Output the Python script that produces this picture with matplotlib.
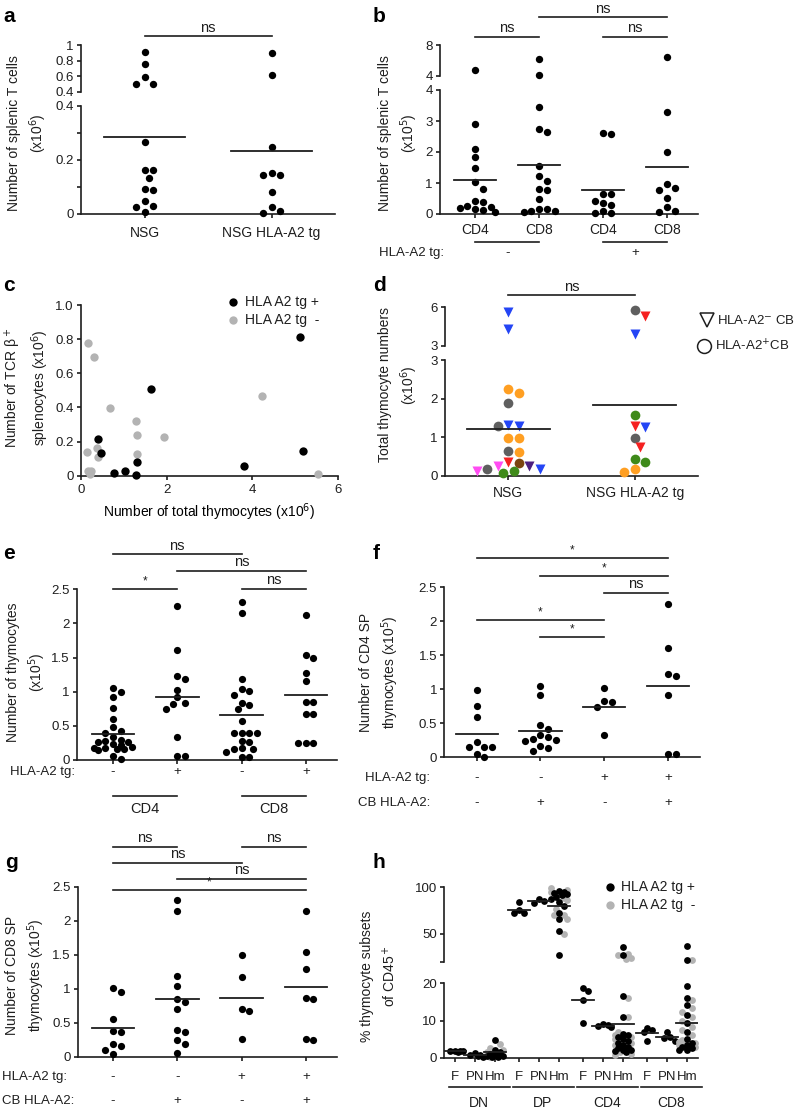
import numpy as np
import matplotlib
matplotlib.use('Agg')
import matplotlib.pyplot as plt
from matplotlib.lines import Line2D
from matplotlib import transforms

# ---- data ----
# a: splenic T cells (x10^6)
a_nsg = [0.914, 0.756, 0.593, 0.507, 0.507, 0.266, 0.164, 0.164, 0.135, 0.094, 0.089, 0.05, 0.03, 0.025, 0.007]
a_tg = [0.90, 0.615, 0.247, 0.151, 0.143, 0.143, 0.081, 0.027, 0.01, 0.005]

# b: splenic T cells (x10^5), CD4-, CD8-, CD4+, CD8+
b_cd4_neg = [4.77, 2.89, 2.09, 1.83, 1.47, 1.02, 0.81, 0.41, 0.38, 0.26, 0.22, 0.18, 0.16, 0.13, 0.06]
b_cd8_neg = [6.15, 4.1, 3.44, 2.73, 2.65, 1.56, 1.23, 1.08, 0.81, 0.76, 0.47, 0.15, 0.15, 0.11, 0.09, 0.06]
b_cd4_pos = [2.62, 2.58, 0.63, 0.63, 0.43, 0.37, 0.30, 0.11, 0.04, 0.04]
b_cd8_pos = [6.4, 3.28, 1.99, 0.97, 0.83, 0.77, 0.51, 0.22, 0.09, 0.06]

# c: thymocytes vs TCRb+ splenocytes (x10^6)
c_pos_x = [5.12, 1.63, 0.39, 0.47, 1.32, 0.78, 1.04, 1.29, 3.80, 5.20]
c_pos_y = [0.815, 0.508, 0.213, 0.131, 0.078, 0.014, 0.029, 0.006, 0.055, 0.145]
c_neg_x = [0.16, 0.30, 0.68, 4.22, 1.29, 1.32, 1.93, 1.32, 0.37, 0.39, 0.13, 0.16, 0.23, 0.20, 5.55]
c_neg_y = [0.775, 0.693, 0.396, 0.467, 0.322, 0.238, 0.229, 0.125, 0.160, 0.111, 0.141, 0.029, 0.029, 0.010, 0.010]

# d: total thymocytes (x10^6), donor colour code and CB HLA-A2 status (v = A2-, o = A2+)
d_nsg = [5.66, 4.3, 2.25, 2.14, 1.90, 1.32, 1.29, 1.29, 0.99, 0.99, 0.65, 0.62, 0.37, 0.34, 0.27, 0.26, 0.18, 0.18, 0.14, 0.12, 0.09]
d_nsg_donor = ['B', 'B', 'O', 'O', 'G', 'B', 'B', 'G', 'O', 'O', 'G', 'O', 'R', 'N', 'M', 'P', 'G', 'B', 'M', 'E', 'E']
d_nsg_cb = ['v', 'v', 'o', 'o', 'o', 'v', 'v', 'o', 'o', 'o', 'o', 'o', 'v', 'o', 'v', 'v', 'o', 'v', 'v', 'o', 'o']
d_tg = [5.8, 5.3, 3.9, 1.58, 1.30, 1.28, 0.99, 0.76, 0.44, 0.35, 0.17, 0.11]
d_tg_donor = ['G', 'R', 'B', 'E', 'R', 'B', 'G', 'R', 'E', 'E', 'O', 'O']
d_tg_cb = ['o', 'v', 'v', 'o', 'v', 'v', 'o', 'v', 'o', 'o', 'o', 'o']
donor_colors = {'B': '#2445f5', 'O': '#ff9f22', 'G': '#5f5f5f', 'R': '#f52020',
                'N': '#7a4510', 'M': '#ff4cf2', 'P': '#4c2080', 'E': '#3f8a1a'}

# e: thymocytes (x10^5): CD4 tg-, CD4 tg+, CD8 tg-, CD8 tg+
e_groups = [
    [1.06, 1.00, 0.92, 0.76, 0.60, 0.49, 0.42, 0.40, 0.33, 0.30, 0.28, 0.27, 0.26, 0.24, 0.22, 0.19, 0.17, 0.17, 0.16, 0.16, 0.15, 0.06, 0.02],
    [2.25, 1.61, 1.23, 1.19, 1.03, 0.92, 0.83, 0.815, 0.75, 0.33, 0.06, 0.06],
    [2.31, 2.15, 1.18, 1.04, 1.01, 0.95, 0.84, 0.80, 0.74, 0.57, 0.40, 0.40, 0.39, 0.39, 0.28, 0.26, 0.17, 0.16, 0.16, 0.12, 0.05, 0.04],
    [2.13, 1.54, 1.49, 1.28, 1.16, 0.845, 0.845, 0.68, 0.67, 0.25, 0.25, 0.25],
]
e_signs = ['-', '+', '-', '+']
# f: CD4 SP thymocytes (x10^5)
f_groups = [
    [0.99, 0.755, 0.59, 0.22, 0.157, 0.157, 0.157, 0.05, 0.01],
    [1.05, 0.91, 0.48, 0.42, 0.33, 0.30, 0.27, 0.26, 0.24, 0.16, 0.13, 0.10],
    [1.02, 0.83, 0.81, 0.745, 0.33],
    [2.25, 1.61, 1.23, 1.19, 0.91, 0.05, 0.05],
]
# g: CD8 SP thymocytes (x10^5)
g_groups = [
    [1.01, 0.95, 0.56, 0.38, 0.37, 0.18, 0.16, 0.10, 0.04],
    [2.30, 2.15, 1.18, 1.04, 0.85, 0.80, 0.70, 0.39, 0.36, 0.245, 0.19, 0.06],
    [1.50, 1.17, 0.70, 0.67, 0.255],
    [2.15, 1.54, 1.29, 0.86, 0.85, 0.255, 0.245],
]
tg_signs = ['-', '-', '+', '+']
cb_signs = ['-', '+', '-', '+']

# h: % thymocyte subsets of CD45+ (DN, DP, CD4, CD8 x F, PN, Hm)
h_subsets = ['DN', 'DP', 'CD4', 'CD8']
h_sources = ['F', 'PN', 'Hm']
h_pos = [
    [1.9, 1.8, 1.7, 1.7, 1.6], [1.2, 0.8, 0.6, 0.4, 0.3], [4.7, 2.0, 1.5, 1.0, 0.8, 0.5, 0.4, 0.3, 0.2],
    [84.6, 76, 72, 72], [87, 85.4, 83.6], [96, 95, 94, 93, 92, 90, 88, 84, 80, 72, 66, 53, 28],
    [18.8, 18.0, 15.5, 9.3], [9.0, 8.8, 8.5, 8.2], [36, 28, 16.5, 11, 6.5, 6, 5.5, 5, 4.5, 4, 3.5, 3, 2.5, 2.2, 2, 1.8, 1.5],
    [8.0, 7.5, 6.8, 4.6], [6.8, 5.6, 5.2, 4.6], [37, 22, 19.4, 16, 14.2, 11.5, 9.4, 7, 5, 4, 3.5, 3, 2.5, 2.2, 2],
]
h_neg = [
    [], [], [3.8, 2.5, 2.2, 1.5, 1.2, 0.8, 0.6, 0.3],
    [], [], [99, 97, 95, 93, 89, 86, 77, 70, 70, 66, 50],
    [], [], [29, 27, 24, 23, 16, 11, 7, 6, 5.5, 5, 4, 3.5, 3, 2.5, 1.5, 1.0, 0.8],
    [], [], [22, 15.5, 13.3, 12.4, 11, 10, 8.3, 7.5, 6, 4.8, 4.2, 4, 3.9, 3.5, 3, 2.8],
]

# ---- style ----
W, H = 795, 1111
INK = '#1e1e1e'
GREY = '#b3b3b3'
plt.rcParams['font.family'] = ['Liberation Sans', 'DejaVu Sans']
plt.rcParams['font.size'] = 9.5
plt.rcParams['text.color'] = INK
plt.rcParams['axes.edgecolor'] = INK
plt.rcParams['axes.linewidth'] = 1.2
for k in ('xtick', 'ytick'):
    plt.rcParams[k + '.color'] = INK
    plt.rcParams[k + '.labelcolor'] = INK
    plt.rcParams[k + '.major.width'] = 1.2
    plt.rcParams[k + '.minor.width'] = 1.2
    plt.rcParams[k + '.major.size'] = 3.2
    plt.rcParams[k + '.minor.size'] = 3.2
    plt.rcParams[k + '.major.pad'] = 2
    plt.rcParams[k + '.labelsize'] = 9.5

fig = plt.figure(figsize=(W / 100, H / 100), dpi=100)


def axes_px(x0, y0, x1, y1, xlim, ylim, bottom=True):
    ax = fig.add_axes([x0 / W, 1 - y1 / H, (x1 - x0) / W, (y1 - y0) / H])
    ax.set_xlim(*xlim)
    ax.set_ylim(*ylim)
    ax.spines['top'].set_visible(False)
    ax.spines['right'].set_visible(False)
    if not bottom:
        ax.spines['bottom'].set_visible(False)
        ax.tick_params(axis='x', bottom=False, labelbottom=False)
    ax.patch.set_visible(False)
    ax.set_autoscale_on(False)
    return ax


def ftext(x, y, s, **kw):
    fig.text(x / W, 1 - y / H, s, **kw)


def ylab(x, y, s):
    ftext(x, y, s, rotation=90, ha='center', va='center', fontsize=10, linespacing=1.45, multialignment='center')


def letter(x, y, s):
    ftext(x, y, s, fontsize=15, fontweight='bold', ha='left', va='baseline', color='black')


def blend(ax):
    return transforms.blended_transform_factory(ax.transData, fig.transFigure)


def sig(ax, c0, c1, y, label):
    tr = blend(ax)
    ax.plot([c0, c1], [1 - y / H] * 2, color=INK, lw=1.2, transform=tr, clip_on=False)
    fs = 10.5 if label == 'ns' else 8.5
    ax.text((c0 + c1) / 2, 1 - (y - 1.5) / H, label, transform=tr, ha='center', va='bottom', fontsize=fs)


def row(ax, xs, y, labels, fs=9.5):
    tr = blend(ax)
    for x, s in zip(xs, labels):
        ax.text(x, 1 - y / H, s, transform=tr, ha='center', va='center', fontsize=fs)


def uline(ax, c0, c1, y):
    ax.plot([c0, c1], [1 - y / H] * 2, color=INK, lw=1.2, transform=blend(ax), clip_on=False)


def swarm(ax, c, vals, d, maxoff=30.0):
    # spread points sideways (in pixels) so they do not overlap, up to maxoff
    vals = np.asarray(vals, float)
    pts = ax.transData.transform(np.column_stack([np.full(len(vals), float(c)), vals]))
    cands = [0.0]
    i = 1
    while i * d / 2 <= maxoff:
        cands += [i * d / 2, -i * d / 2]
        i += 1
    placed, offs = [], []
    for y in pts[:, 1]:
        best, best_gap = 0.0, -1.0
        for o in cands:
            gap = min([np.hypot(o - px, y - py) for px, py in placed], default=1e9)
            if gap >= d * 0.98:
                best = o
                break
            if gap > best_gap:
                best, best_gap = o, gap
        placed.append((best, y))
        offs.append(best)
    back = ax.transData.inverted().transform(np.column_stack([pts[:, 0] + np.array(offs), pts[:, 1]]))
    return back[:, 0]


def dots(axs, brk, c, vals, color='black', ms=5.0, d=6.8, maxoff=22):
    vals = np.asarray(vals, float)
    lo, hi = axs
    for ax, sel in ((lo, vals <= brk), (hi, vals > brk)):
        if ax is None or not sel.any():
            continue
        xs = swarm(ax, c, vals[sel], d, maxoff)
        ax.plot(xs, vals[sel], 'o', ms=ms, color=color, mec='none', clip_on=False, zorder=3)


def mean_line(ax, c, vals, half=0.33):
    m = np.mean(vals)
    ax.plot([c - half, c + half], [m, m], color=INK, lw=1.3, zorder=4)


# ---- panel a ----
a_lo = axes_px(81, 106, 335, 214, (-0.5, 1.5), (0, 0.4))
a_hi = axes_px(81, 45, 335, 92, (-0.5, 1.5), (0.4, 1.0), bottom=False)
a_lo.set_yticks([0, 0.2, 0.4], ['0', '0.2', '0.4'])
a_lo.set_yticks([0.1, 0.3], minor=True)
a_hi.set_yticks([0.4, 0.6, 0.8, 1.0], ['0.4', '0.6', '0.8', '1'])
a_lo.set_xticks([0, 1], [])
for i, v in enumerate([a_nsg, a_tg]):
    dots((a_lo, a_hi), 0.4, i, v, ms=5.3, d=8.5)
    mean_line(a_lo, i, v, 0.32)
row(a_lo, [0, 1], 233, ['NSG', 'NSG HLA-A2 tg'], fs=10)
sig(a_lo, 0, 1, 36, 'ns')
ylab(28, 133, 'Number of splenic T cells\n(x10$^6$)')
letter(3, 22, 'a')

# ---- panel b ----
b_lo = axes_px(440, 90, 698, 214, (-0.55, 3.48), (0, 4))
b_hi = axes_px(440, 45, 698, 76, (-0.55, 3.48), (4, 8), bottom=False)
b_lo.set_yticks([0, 1, 2, 3, 4])
b_hi.set_yticks([4, 8])
b_lo.set_xticks([0, 1, 2, 3], [])
for i, v in enumerate([b_cd4_neg, b_cd8_neg, b_cd4_pos, b_cd8_pos]):
    dots((b_lo, b_hi), 4, i, v, ms=5.3, d=7.8)
    mean_line(b_lo, i, v, 0.33)
row(b_lo, [0, 1, 2, 3], 230, ['CD4', 'CD8', 'CD4', 'CD8'], fs=10)
uline(b_lo, 0, 1, 242)
uline(b_lo, 2, 3, 242)
row(b_lo, [0.5, 2.5], 253, ['-', '+'])
ftext(444, 253, 'HLA-A2 tg:', ha='right', va='center')
sig(b_lo, 0, 1, 36.7, 'ns')
sig(b_lo, 2, 3, 36.7, 'ns')
sig(b_lo, 1, 3, 17.3, 'ns')
ylab(399, 133, 'Number of splenic T cells\n(x10$^5$)')
letter(373, 22, 'b')

# ---- panel c ----
ax_c = axes_px(81, 305, 337.7, 475.7, (0, 6), (0, 1.0))
ax_c.set_yticks([0, 0.2, 0.4, 0.6, 0.8, 1.0], ['0', '0.2', '0.4', '0.6', '0.8', '1.0'])
ax_c.set_xticks([0, 2, 4, 6])
ax_c.tick_params(axis='x', pad=3)
ax_c.plot(c_neg_x, c_neg_y, 'o', ms=6, color=GREY, mec='none', clip_on=False, zorder=3)
ax_c.plot(c_pos_x, c_pos_y, 'o', ms=6, color='black', mec='none', clip_on=False, zorder=3)
ax_c.set_xlabel('Number of total thymocytes (x10$^6$)', fontsize=10, labelpad=4)
fig.add_artist(Line2D([233 / W], [1 - 302 / H], marker='o', ms=6, color='black', mec='none', transform=fig.transFigure))
fig.add_artist(Line2D([233 / W], [1 - 320 / H], marker='o', ms=6, color=GREY, mec='none', transform=fig.transFigure))
ftext(245, 302, 'HLA A2 tg +', ha='left', va='center', fontsize=10)
ftext(245, 320, 'HLA A2 tg  -', ha='left', va='center', fontsize=10)
ylab(27, 388, 'Number of TCR \u03b2$^+$\nsplenocytes (x10$^6$)')
letter(3, 291, 'c')

# ---- panel d ----
d_lo = axes_px(445, 360, 698, 476, (-0.5, 1.5), (0, 3))
d_hi = axes_px(445, 307.3, 698, 346, (-0.5, 1.5), (3, 6), bottom=False)
d_lo.set_yticks([0, 1, 2, 3])
d_hi.set_yticks([3, 6])
d_lo.set_xticks([0, 1], [])
for i, (vals, donors, cbs) in enumerate([(d_nsg, d_nsg_donor, d_nsg_cb), (d_tg, d_tg_donor, d_tg_cb)]):
    vals = np.asarray(vals)
    for ax, sel in ((d_lo, vals <= 3), (d_hi, vals > 3)):
        idx = np.where(sel)[0]
        xs = swarm(ax, i, vals[idx], 10.5, 40)
        for x, k in zip(xs, idx):
            ax.plot(x, vals[k], cbs[k], ms=7.0 if cbs[k] == 'o' else 7.4,
                    color=donor_colors[donors[k]], mec='none', clip_on=False, zorder=3)
    mean_line(d_lo, i, vals, 0.33)
row(d_lo, [0, 1], 493, ['NSG', 'NSG HLA-A2 tg'], fs=10)
sig(d_lo, 0, 1, 295, 'ns')
fig.add_artist(Line2D([707 / W], [1 - 320 / H], marker='v', ms=10, mfc='none', mec=INK, mew=1.1, transform=fig.transFigure))
fig.add_artist(Line2D([704 / W], [1 - 346 / H], marker='o', ms=10, mfc='none', mec=INK, mew=1.1, transform=fig.transFigure))
ftext(717, 320, 'HLA-A2$^{-}$ CB', ha='left', va='center', fontsize=9.5)
ftext(715, 346, 'HLA-A2$^{+}$CB', ha='left', va='center', fontsize=9.5)
ylab(399, 385, 'Total thymocyte numbers\n(x10$^6$)')
letter(373, 291, 'd')


def four_group(x0, y0, x1, y1, xlim, groups):
    ax = axes_px(x0, y0, x1, y1, xlim, (0, 2.5))
    ax.set_yticks([0, 0.5, 1, 1.5, 2, 2.5], ['0', '0.5', '1', '1.5', '2', '2.5'])
    ax.set_xticks([0, 1, 2, 3], [])
    for i, v in enumerate(groups):
        dots((ax, None), 99, i, v, ms=5.2, d=7.6, maxoff=20)
        mean_line(ax, i, v, 0.33)
    return ax


# ---- panel e ----
ax_e = four_group(76.7, 589.3, 336.7, 760, (-0.565, 3.48), e_groups)
row(ax_e, [0, 1, 2, 3], 772, e_signs)
ftext(10, 772, 'HLA-A2 tg:', ha='left', va='center')
uline(ax_e, 0, 1, 796)
uline(ax_e, 2, 3, 796)
row(ax_e, [0.5, 2.5], 809, ['CD4', 'CD8'], fs=10.5)
sig(ax_e, 0, 2, 554, 'ns')
sig(ax_e, 1, 3, 570.7, 'ns')
sig(ax_e, 0, 1, 589, '*')
sig(ax_e, 2, 3, 589, 'ns')
ylab(27, 672, 'Number of thymocytes\n(x10$^5$)')
letter(3, 559, 'e')

# ---- panel f ----
ax_f = four_group(444.3, 587.3, 700, 757.3, (-0.507, 3.5), f_groups)
row(ax_f, [0, 1, 2, 3], 778.3, tg_signs)
row(ax_f, [0, 1, 2, 3], 803.3, cb_signs)
ftext(430, 778.3, 'HLA-A2 tg:', ha='right', va='center')
ftext(430, 803.3, 'CB HLA-A2:', ha='right', va='center')
sig(ax_f, 0, 3, 558.3, '*')
sig(ax_f, 1, 3, 575.7, '*')
sig(ax_f, 2, 3, 592.7, 'ns')
sig(ax_f, 0, 2, 620, '*')
sig(ax_f, 1, 2, 636.7, '*')
ylab(380, 672, 'Number of CD4 SP\nthymocytes (x10$^5$)')
letter(373, 559, 'f')

# ---- panel g ----
ax_g = four_group(77.7, 886.7, 336.7, 1056.7, (-0.55, 3.48), g_groups)
row(ax_g, [0, 1, 2, 3], 1077.3, tg_signs)
row(ax_g, [0, 1, 2, 3], 1101, cb_signs)
ftext(2, 1077.3, 'HLA-A2 tg:', ha='left', va='center')
ftext(2, 1101, 'CB HLA-A2:', ha='left', va='center')
sig(ax_g, 0, 1, 846.7, 'ns')
sig(ax_g, 2, 3, 846.7, 'ns')
sig(ax_g, 0, 2, 862.7, 'ns')
sig(ax_g, 1, 3, 879, 'ns')
sig(ax_g, 0, 3, 890, '*')
ylab(26, 975, 'Number of CD8 SP\nthymocytes (x10$^5$)')
letter(5, 868, 'g')

# ---- panel h ----
h_lo = axes_px(444.3, 983.3, 698, 1057.7, (-0.535, 12.15), (0, 20))
h_hi = axes_px(444.3, 887.3, 698, 962, (-0.535, 12.15), (20, 100), bottom=False)
h_lo.set_yticks([0, 10, 20])
h_hi.set_yticks([20, 50, 100], ['', '50', '100'])
xpos = [g * 3.2 + s for g in range(4) for s in range(3)]
h_lo.set_xticks(xpos, [])
for k, x in enumerate(xpos):
    vals = np.array(h_pos[k] + h_neg[k], float)
    cols = ['black'] * len(h_pos[k]) + [GREY] * len(h_neg[k])
    for ax, sel in ((h_lo, vals <= 20), (h_hi, vals > 20)):
        idx = np.where(sel)[0]
        if len(idx) == 0:
            continue
        xs = swarm(ax, x, vals[idx], 5.2, 10)
        order = sorted(range(len(idx)), key=lambda j: cols[idx[j]] == 'black')
        for j in order:
            ax.plot(xs[j], vals[idx[j]], 'o', ms=4.9, color=cols[idx[j]], mec='none', clip_on=False, zorder=3)
    m = vals.mean()
    (h_lo if m <= 20 else h_hi).plot([x - 0.55, x + 0.55], [m, m], color=INK, lw=1.3, zorder=4)
row(h_lo, xpos, 1077.3, h_sources * 4, fs=9.5)
for g, name in enumerate(h_subsets):
    uline(h_lo, g * 3.2 - 0.32, g * 3.2 + 2.75, 1087.3)
    row(h_lo, [g * 3.2 + 1.2], 1102.7, [name], fs=10)
fig.add_artist(Line2D([610 / W], [1 - 887.3 / H], marker='o', ms=6, color='black', mec='none', transform=fig.transFigure))
fig.add_artist(Line2D([610 / W], [1 - 905 / H], marker='o', ms=6, color=GREY, mec='none', transform=fig.transFigure))
ftext(621, 887.3, 'HLA A2 tg +', ha='left', va='center', fontsize=10)
ftext(621, 905, 'HLA A2 tg  -', ha='left', va='center', fontsize=10)
ylab(379, 976, '% thymocyte subsets\nof CD45$^+$')
letter(373, 868, 'h')

fig.savefig('out.png', dpi=100)
